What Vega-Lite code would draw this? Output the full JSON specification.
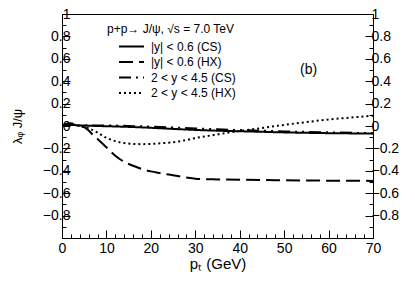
{
  "$schema": "https://vega.github.io/schema/vega-lite/v6.json",
  "width": 311,
  "height": 224,
  "autosize": "none",
  "padding": {"left": 62, "top": 14, "right": 42, "bottom": 44},
  "background": "white",
  "config": {
    "view": {"stroke": "black", "strokeWidth": 1},
    "font": "Liberation Sans",
    "axis": {"labelFont": "Liberation Sans", "titleFont": "Liberation Sans", "labelColor": "black", "titleColor": "black", "tickColor": "black", "grid": false, "domain": false, "titleFontWeight": "normal"}
  },
  "data": {"values": [
    {"pT": 0, "v": 0, "s": "|y| < 0.6 (CS)"},
    {"pT": 2, "v": 0.01, "s": "|y| < 0.6 (CS)"},
    {"pT": 4, "v": 0.005, "s": "|y| < 0.6 (CS)"},
    {"pT": 6, "v": 0.003, "s": "|y| < 0.6 (CS)"},
    {"pT": 8, "v": 0.0, "s": "|y| < 0.6 (CS)"},
    {"pT": 10, "v": -0.002, "s": "|y| < 0.6 (CS)"},
    {"pT": 15, "v": -0.008, "s": "|y| < 0.6 (CS)"},
    {"pT": 20, "v": -0.016, "s": "|y| < 0.6 (CS)"},
    {"pT": 25, "v": -0.026, "s": "|y| < 0.6 (CS)"},
    {"pT": 30, "v": -0.035, "s": "|y| < 0.6 (CS)"},
    {"pT": 35, "v": -0.042, "s": "|y| < 0.6 (CS)"},
    {"pT": 40, "v": -0.047, "s": "|y| < 0.6 (CS)"},
    {"pT": 45, "v": -0.052, "s": "|y| < 0.6 (CS)"},
    {"pT": 50, "v": -0.057, "s": "|y| < 0.6 (CS)"},
    {"pT": 55, "v": -0.061, "s": "|y| < 0.6 (CS)"},
    {"pT": 60, "v": -0.064, "s": "|y| < 0.6 (CS)"},
    {"pT": 65, "v": -0.066, "s": "|y| < 0.6 (CS)"},
    {"pT": 70, "v": -0.068, "s": "|y| < 0.6 (CS)"},

    {"pT": 0, "v": 0, "s": "|y| < 0.6 (HX)"},
    {"pT": 2, "v": 0.015, "s": "|y| < 0.6 (HX)"},
    {"pT": 4, "v": 0.0, "s": "|y| < 0.6 (HX)"},
    {"pT": 5, "v": -0.01, "s": "|y| < 0.6 (HX)"},
    {"pT": 6, "v": -0.04, "s": "|y| < 0.6 (HX)"},
    {"pT": 7, "v": -0.08, "s": "|y| < 0.6 (HX)"},
    {"pT": 8, "v": -0.115, "s": "|y| < 0.6 (HX)"},
    {"pT": 10, "v": -0.19, "s": "|y| < 0.6 (HX)"},
    {"pT": 12, "v": -0.265, "s": "|y| < 0.6 (HX)"},
    {"pT": 14, "v": -0.32, "s": "|y| < 0.6 (HX)"},
    {"pT": 16, "v": -0.355, "s": "|y| < 0.6 (HX)"},
    {"pT": 18, "v": -0.385, "s": "|y| < 0.6 (HX)"},
    {"pT": 20, "v": -0.405, "s": "|y| < 0.6 (HX)"},
    {"pT": 22, "v": -0.42, "s": "|y| < 0.6 (HX)"},
    {"pT": 25, "v": -0.44, "s": "|y| < 0.6 (HX)"},
    {"pT": 28, "v": -0.46, "s": "|y| < 0.6 (HX)"},
    {"pT": 30, "v": -0.47, "s": "|y| < 0.6 (HX)"},
    {"pT": 35, "v": -0.477, "s": "|y| < 0.6 (HX)"},
    {"pT": 40, "v": -0.48, "s": "|y| < 0.6 (HX)"},
    {"pT": 50, "v": -0.485, "s": "|y| < 0.6 (HX)"},
    {"pT": 60, "v": -0.488, "s": "|y| < 0.6 (HX)"},
    {"pT": 70, "v": -0.49, "s": "|y| < 0.6 (HX)"},

    {"pT": 0, "v": 0, "s": "2 < y < 4.5 (CS)"},
    {"pT": 1, "v": 0.02, "s": "2 < y < 4.5 (CS)"},
    {"pT": 2, "v": 0.025, "s": "2 < y < 4.5 (CS)"},
    {"pT": 3, "v": 0.015, "s": "2 < y < 4.5 (CS)"},
    {"pT": 4, "v": 0.005, "s": "2 < y < 4.5 (CS)"},
    {"pT": 6, "v": 0.005, "s": "2 < y < 4.5 (CS)"},
    {"pT": 10, "v": 0.005, "s": "2 < y < 4.5 (CS)"},
    {"pT": 15, "v": 0.0, "s": "2 < y < 4.5 (CS)"},
    {"pT": 20, "v": -0.005, "s": "2 < y < 4.5 (CS)"},
    {"pT": 25, "v": -0.013, "s": "2 < y < 4.5 (CS)"},
    {"pT": 30, "v": -0.022, "s": "2 < y < 4.5 (CS)"},
    {"pT": 35, "v": -0.03, "s": "2 < y < 4.5 (CS)"},
    {"pT": 40, "v": -0.036, "s": "2 < y < 4.5 (CS)"},
    {"pT": 50, "v": -0.048, "s": "2 < y < 4.5 (CS)"},
    {"pT": 60, "v": -0.057, "s": "2 < y < 4.5 (CS)"},
    {"pT": 70, "v": -0.064, "s": "2 < y < 4.5 (CS)"},

    {"pT": 0, "v": 0, "s": "2 < y < 4.5 (HX)"},
    {"pT": 2, "v": 0.01, "s": "2 < y < 4.5 (HX)"},
    {"pT": 4, "v": 0.0, "s": "2 < y < 4.5 (HX)"},
    {"pT": 5, "v": -0.01, "s": "2 < y < 4.5 (HX)"},
    {"pT": 6, "v": -0.02, "s": "2 < y < 4.5 (HX)"},
    {"pT": 8, "v": -0.06, "s": "2 < y < 4.5 (HX)"},
    {"pT": 10, "v": -0.105, "s": "2 < y < 4.5 (HX)"},
    {"pT": 12, "v": -0.135, "s": "2 < y < 4.5 (HX)"},
    {"pT": 14, "v": -0.152, "s": "2 < y < 4.5 (HX)"},
    {"pT": 16, "v": -0.16, "s": "2 < y < 4.5 (HX)"},
    {"pT": 18, "v": -0.162, "s": "2 < y < 4.5 (HX)"},
    {"pT": 20, "v": -0.16, "s": "2 < y < 4.5 (HX)"},
    {"pT": 22, "v": -0.155, "s": "2 < y < 4.5 (HX)"},
    {"pT": 25, "v": -0.145, "s": "2 < y < 4.5 (HX)"},
    {"pT": 28, "v": -0.125, "s": "2 < y < 4.5 (HX)"},
    {"pT": 30, "v": -0.108, "s": "2 < y < 4.5 (HX)"},
    {"pT": 35, "v": -0.075, "s": "2 < y < 4.5 (HX)"},
    {"pT": 40, "v": -0.045, "s": "2 < y < 4.5 (HX)"},
    {"pT": 45, "v": -0.018, "s": "2 < y < 4.5 (HX)"},
    {"pT": 50, "v": 0.01, "s": "2 < y < 4.5 (HX)"},
    {"pT": 55, "v": 0.035, "s": "2 < y < 4.5 (HX)"},
    {"pT": 60, "v": 0.058, "s": "2 < y < 4.5 (HX)"},
    {"pT": 65, "v": 0.075, "s": "2 < y < 4.5 (HX)"},
    {"pT": 70, "v": 0.092, "s": "2 < y < 4.5 (HX)"}
  ]},
  "layer": [
    {
      "mark": {"type": "line", "color": "black", "strokeWidth": 2, "interpolate": "monotone", "clip": true},
      "encoding": {
        "x": {"field": "pT", "type": "quantitative", "scale": {"domain": [0, 70], "nice": false, "zero": false},
          "axis": {"values": [0,2,4,6,8,10,12,14,16,18,20,22,24,26,28,30,32,34,36,38,40,42,44,46,48,50,52,54,56,58,60,62,64,66,68,70],
            "labelExpr": "datum.value % 10 === 0 ? datum.label : ''",
            "tickSize": {"condition": {"test": "datum.value % 10 === 0", "value": -8}, "value": -4},
            "labelPadding": 11, "labelFontSize": 14, "labelFlush": false,
            "title": "pₜ (GeV)", "titleFontSize": 15, "titlePadding": 1}},
        "y": {"field": "v", "type": "quantitative", "scale": {"domain": [-1, 1], "nice": false},
          "axis": {"values": [-1,-0.9,-0.8,-0.7,-0.6,-0.5,-0.4,-0.3,-0.2,-0.1,0,0.1,0.2,0.3,0.4,0.5,0.6,0.7,0.8,0.9,1],
            "format": "~g",
            "labelExpr": "(abs(round(datum.value*10)) % 2 === 0 && datum.value > -0.95) ? datum.label : ''",
            "tickSize": {"condition": {"test": "abs(round(datum.value*10)) % 2 === 0", "value": -8}, "value": -4},
            "labelPadding": 0, "labelFontSize": 14, "labelFlush": false,
            "title": "λᵩ J/ψ", "titleFontSize": 13, "titlePadding": 18}},
        "strokeDash": {"field": "s", "type": "nominal",
          "scale": {"domain": ["|y| < 0.6 (CS)", "|y| < 0.6 (HX)", "2 < y < 4.5 (CS)", "2 < y < 4.5 (HX)"],
            "range": [[1, 0], [14, 6], [12, 5, 2, 5, 2, 5], [2, 3]]},
          "legend": {"orient": "none", "legendX": 45, "legendY": 10, "title": "p+p→ J/ψ, √s = 7.0 TeV",
            "titleFontSize": 12, "titleFontWeight": "normal", "titleColor": "black", "titlePadding": 3,
            "labelFontSize": 12, "labelColor": "black", "symbolType": "M-2,0H2", "symbolSize": 156,
            "symbolStrokeWidth": 2, "symbolStrokeColor": "black", "symbolOffset": 17, "rowPadding": 1.5, "labelOffset": 12}}
      }
    },
    {
      "mark": {"type": "line", "opacity": 0},
      "encoding": {
        "x": {"field": "pT", "type": "quantitative", "axis": null},
        "y": {"field": "v", "type": "quantitative",
          "axis": {"orient": "right", "values": [-1,-0.9,-0.8,-0.7,-0.6,-0.5,-0.4,-0.3,-0.2,-0.1,0,0.1,0.2,0.3,0.4,0.5,0.6,0.7,0.8,0.9,1],
            "format": "~g",
            "labelExpr": "(abs(round(datum.value*10)) % 2 === 0 && datum.value > -0.95) ? datum.label : ''",
            "tickSize": {"condition": {"test": "abs(round(datum.value*10)) % 2 === 0", "value": -8}, "value": -4},
            "labelPadding": 6, "labelFontSize": 14, "labelFlush": false, "title": null}}
      }
    },
    {
      "data": {"values": [{"pT": 55.5, "v": 0.5, "t": "(b)"}]},
      "mark": {"type": "text", "fontSize": 14, "font": "Liberation Sans", "color": "black"},
      "encoding": {
        "x": {"field": "pT", "type": "quantitative", "axis": null},
        "y": {"field": "v", "type": "quantitative", "axis": null},
        "text": {"field": "t"}
      }
    }
  ],
  "resolve": {"axis": {"x": "independent", "y": "independent"}}
}
